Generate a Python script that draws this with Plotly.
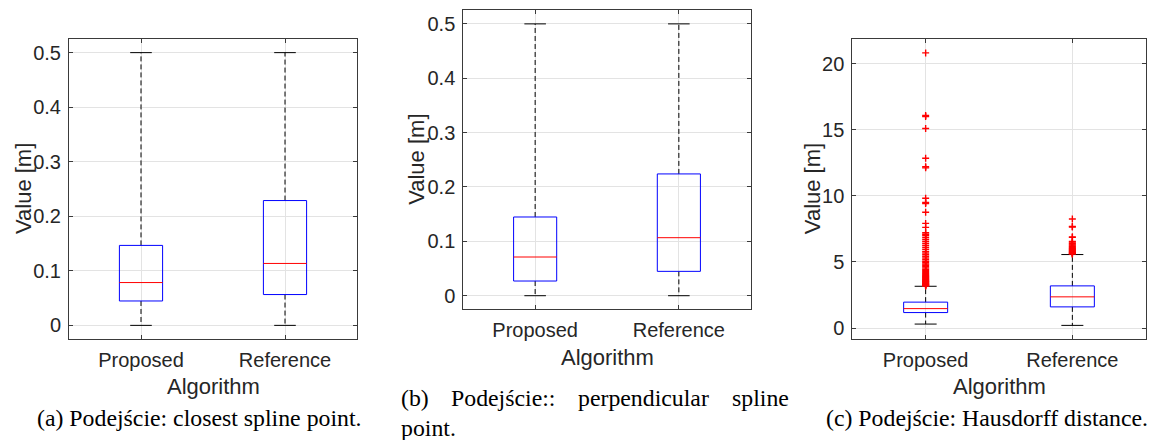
import plotly.graph_objects as go

# ---------------- data ----------------
categories = ["Proposed", "Reference"]

# panel (a) closest spline point
a_low = [0.0, 0.0]
a_q1 = [0.0447, 0.0565]
a_med = [0.0785, 0.1135]
a_q3 = [0.1466, 0.2288]
a_high = [0.5, 0.5]

# panel (b) perpendicular spline point
b_low = [0.0, 0.0]
b_q1 = [0.027, 0.0448]
b_med = [0.0712, 0.1067]
b_q3 = [0.1448, 0.224]
b_high = [0.5, 0.5]

# panel (c) Hausdorff distance
c_low = [0.30, 0.20]
c_q1 = [1.17, 1.60]
c_med = [1.47, 2.36]
c_q3 = [1.96, 3.19]
c_high = [3.16, 5.56]

c_out_proposed = [3.18, 3.21, 3.24, 3.27, 3.30, 3.33, 3.36, 3.40, 3.44, 3.48, 3.52,
                  3.56, 3.60, 3.65, 3.70, 3.75, 3.80, 3.86, 3.92, 3.98, 4.05, 4.12,
                  4.20, 4.28, 4.36, 4.45, 4.55, 4.65, 4.75, 4.85, 4.95, 5.05, 5.18,
                  5.30, 5.42, 5.55, 5.68, 5.80, 5.95, 6.10, 6.25, 6.40, 6.55, 6.70,
                  6.85, 7.00, 7.10, 7.21, 7.62, 7.92, 8.76, 9.42, 9.50, 9.82, 12.12,
                  12.20, 12.85, 15.10, 16.00, 16.08, 20.82]
c_out_reference = [5.60, 5.63, 5.66, 5.70, 5.74, 5.78, 5.82, 5.86, 5.90, 5.95, 6.00,
                   6.05, 6.10, 6.16, 6.22, 6.28, 6.35, 6.42, 6.50, 6.56, 6.86, 6.90,
                   7.64, 7.68, 8.25]

ab_ticks = [0, 0.1, 0.2, 0.3, 0.4, 0.5]
ab_ticktext = ["0", "0.1", "0.2", "0.3", "0.4", "0.5"]
c_ticks = [0, 5, 10, 15, 20]
c_ticktext = ["0", "5", "10", "15", "20"]

y_title = "Value [m]"
x_title = "Algorithm"
caption_a = "(a) Podejście: closest spline point."
caption_b_words = ["(b)", "Podejście::", "perpendicular", "spline"]
caption_b_line2 = "point."
caption_c = "(c) Podejście: Hausdorff distance."

# ---------------- style ----------------
W, H = 1153, 440
BOX_HW = 0.15
CAP_HW = 0.075
AX_COLOR = "#3a3a3a"
GRID = "#e3e3e3"
TXT = "#262626"
SANS = "Liberation Sans, Arial, sans-serif"
SERIF = "Liberation Serif, Times New Roman, serif"

fig = go.Figure()


def add_boxes(xa, ya, low, q1, med, q3, high, outliers):
    for i in range(len(categories)):
        p = i + 1
        # whiskers (dashed)
        fig.add_trace(go.Scatter(x=[p, p, None, p, p], y=[q3[i], high[i], None, q1[i], low[i]],
                                 mode="lines", line=dict(color="black", width=1, dash="5px,3px"),
                                 xaxis=xa, yaxis=ya, showlegend=False, hoverinfo="skip"))
        # caps
        fig.add_trace(go.Scatter(x=[p - CAP_HW, p + CAP_HW, None, p - CAP_HW, p + CAP_HW],
                                 y=[high[i], high[i], None, low[i], low[i]],
                                 mode="lines", line=dict(color="black", width=1),
                                 xaxis=xa, yaxis=ya, showlegend=False, hoverinfo="skip"))
        # box
        fig.add_trace(go.Scatter(x=[p - BOX_HW, p + BOX_HW, p + BOX_HW, p - BOX_HW, p - BOX_HW],
                                 y=[q1[i], q1[i], q3[i], q3[i], q1[i]],
                                 mode="lines", line=dict(color="#0000ff", width=1),
                                 xaxis=xa, yaxis=ya, showlegend=False, hoverinfo="skip"))
        # median
        fig.add_trace(go.Scatter(x=[p - BOX_HW, p + BOX_HW], y=[med[i], med[i]],
                                 mode="lines", line=dict(color="#ff0000", width=1),
                                 xaxis=xa, yaxis=ya, showlegend=False, hoverinfo="skip"))
        if outliers is not None and outliers[i]:
            fig.add_trace(go.Scatter(x=[p] * len(outliers[i]), y=outliers[i], mode="markers",
                                     marker=dict(symbol="cross-thin", size=5,
                                                 line=dict(color="#ff0000", width=1.4)),
                                     xaxis=xa, yaxis=ya, showlegend=False, hoverinfo="skip"))


add_boxes("x", "y", a_low, a_q1, a_med, a_q3, a_high, None)
add_boxes("x2", "y2", b_low, b_q1, b_med, b_q3, b_high, None)
add_boxes("x3", "y3", c_low, c_q1, c_med, c_q3, c_high, [c_out_proposed, c_out_reference])

# panel pixel boxes (left, right, top, bottom)
panels = [(69, 357, 39, 339), (463.3, 750.7, 10.3, 309.3), (852.3, 1145.7, 39.3, 339)]
yranges = [[-0.025, 0.525], [-0.025, 0.525], [-0.83, 21.85]]
yticks = [(ab_ticks, ab_ticktext), (ab_ticks, ab_ticktext), (c_ticks, c_ticktext)]

layout = dict(width=W, height=H, margin=dict(l=0, r=0, t=0, b=0),
              paper_bgcolor="white", plot_bgcolor="white", showlegend=False,
              font=dict(family=SANS, size=20, color=TXT))

annotations = []
for k, (l, r, t, b) in enumerate(panels):
    sfx = "" if k == 0 else str(k + 1)
    layout["xaxis" + sfx] = dict(domain=[l / W, r / W], anchor="y" + sfx, range=[0.5, 2.5],
                                 tickvals=[1, 2], ticktext=categories,
                                 showline=True, linecolor=AX_COLOR, linewidth=1, mirror="allticks",
                                 ticks="inside", ticklen=4, tickcolor=AX_COLOR,
                                 showgrid=True, gridcolor=GRID, zeroline=False,
                                 tickfont=dict(family=SANS, size=20, color=TXT),
                                 ticklabelstandoff=3, fixedrange=True)
    layout["yaxis" + sfx] = dict(domain=[1 - b / H, 1 - t / H], anchor="x" + sfx, range=yranges[k],
                                 tickvals=yticks[k][0], ticktext=yticks[k][1],
                                 showline=True, linecolor=AX_COLOR, linewidth=1, mirror="allticks",
                                 ticks="inside", ticklen=4, tickcolor=AX_COLOR,
                                 showgrid=True, gridcolor=GRID, zeroline=False,
                                 tickfont=dict(family=SANS, size=20, color=TXT),
                                 ticklabelstandoff=3, fixedrange=True)

# axis titles
xt_y = [386, 357, 386]
yt_x = [23, 417, 812]
for k, (l, r, t, b) in enumerate(panels):
    annotations.append(dict(text=x_title, x=(l + r) / 2 / W, y=1 - xt_y[k] / H, xref="paper", yref="paper",
                            xanchor="center", yanchor="middle", showarrow=False,
                            font=dict(family=SANS, size=22, color=TXT)))
    annotations.append(dict(text=y_title, x=yt_x[k] / W, y=1 - (t + b) / 2 / H, xref="paper", yref="paper",
                            xanchor="center", yanchor="middle", showarrow=False, textangle=-90,
                            font=dict(family=SANS, size=22, color=TXT)))

# captions
CAP_FONT = dict(family=SERIF, size=23.8, color="black")
annotations.append(dict(text=caption_a, x=199.5 / W, y=1 - 418 / H, xref="paper", yref="paper",
                        xanchor="center", yanchor="middle", showarrow=False, font=CAP_FONT))
annotations.append(dict(text=caption_c, x=987.3 / W, y=1 - 418 / H, xref="paper", yref="paper",
                        xanchor="center", yanchor="middle", showarrow=False, font=CAP_FONT))
word_x = [399, 449, 576, 730]
for wx, w in zip(word_x, caption_b_words):
    annotations.append(dict(text=w, x=wx / W, y=1 - 398 / H, xref="paper", yref="paper",
                            xanchor="left", yanchor="middle", showarrow=False, font=CAP_FONT))
annotations.append(dict(text=caption_b_line2, x=399 / W, y=1 - 428 / H, xref="paper", yref="paper",
                        xanchor="left", yanchor="middle", showarrow=False, font=CAP_FONT))

layout["annotations"] = annotations
fig.update_layout(**layout)
fig.write_html("out.html")
